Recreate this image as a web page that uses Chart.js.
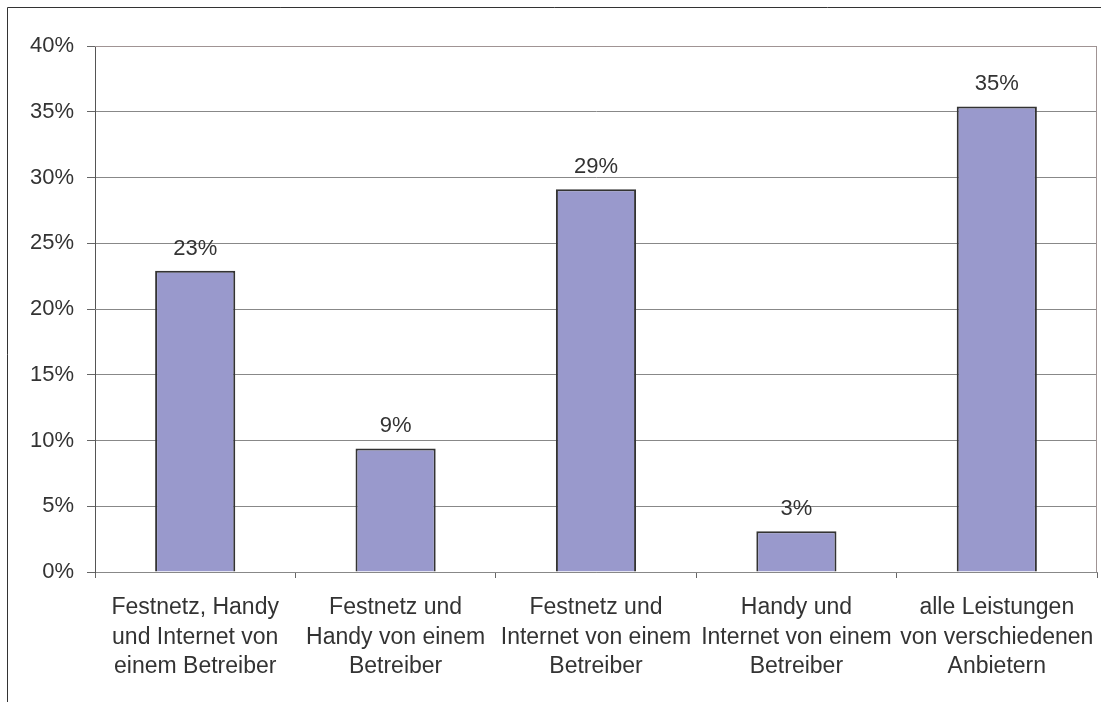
<!DOCTYPE html>
<html>
<head>
<meta charset="utf-8">
<script src="https://cdn.jsdelivr.net/npm/chart.js@4/dist/chart.umd.min.js"></script>
<style>
  html, body { margin: 0; padding: 0; background: #fff; }
  #wrap { width: 1101px; height: 702px; position: relative; }
</style>
</head>
<body>
<div id="wrap"><canvas id="barChart" width="1101" height="702"></canvas></div>
<script>
// Categories and values (percent)
const categories = [
  ["Festnetz, Handy", "und Internet von", "einem Betreiber"],
  ["Festnetz und", "Handy von einem", "Betreiber"],
  ["Festnetz und", "Internet von einem", "Betreiber"],
  ["Handy und", "Internet von einem", "Betreiber"],
  ["alle Leistungen", "von verschiedenen", "Anbietern"]
];
const values = [22.9, 9.4, 29.1, 3.1, 35.4];
const valueLabels = ["23%", "9%", "29%", "3%", "35%"];

const fontFamily = "'Liberation Sans', Arial, sans-serif";

// Outer frame + value labels above bars
const extras = {
  id: "extras",
  beforeDraw(chart) {
    const c = chart.ctx;
    c.save();
    c.strokeStyle = "#333";
    c.lineWidth = 1;
    c.beginPath();
    c.moveTo(7.5, 702);
    c.lineTo(7.5, 7.5);
    c.lineTo(1101, 7.5);
    c.stroke();
    c.restore();
  },
  afterDatasetsDraw(chart) {
    const c = chart.ctx;
    const a = chart.chartArea;
    c.save();
    // plot area border top/right
    c.strokeStyle = "#a09494";
    c.lineWidth = 1;
    c.beginPath();
    c.moveTo(a.left, a.top + 0.5);
    c.lineTo(a.right - 0.5, a.top + 0.5);
    c.lineTo(a.right - 0.5, a.bottom);
    c.stroke();
    c.fillStyle = "#333";
    c.font = "22px " + fontFamily;
    c.textAlign = "center";
    c.textBaseline = "alphabetic";
    chart.getDatasetMeta(0).data.forEach((bar, i) => {
      c.fillText(valueLabels[i], bar.x, bar.y - 16);
    });
    c.restore();
  }
};

const ctx = document.getElementById("barChart").getContext("2d");
const barChart = new Chart(ctx, {
  type: "bar",
  data: {
    labels: categories,
    datasets: [{
      data: values,
      backgroundColor: "#9999cc",
      borderColor: "#333",
      borderWidth: 2,
      borderSkipped: "bottom",
      barPercentage: 0.4,
      categoryPercentage: 1
    }]
  },
  options: {
    responsive: false,
    animation: false,
    layout: { padding: { left: 0, right: 4, top: 46, bottom: 0 } },
    plugins: { legend: { display: false }, tooltip: { enabled: false } },
    scales: {
      x: {
        offset: true,
        grid: {
          offset: true,
          drawOnChartArea: false,
          drawTicks: true,
          tickLength: 6,
          color: "#666"
        },
        border: { color: "#888", width: 1 },
        ticks: {
          color: "#333",
          font: { family: fontFamily, size: 23, lineHeight: 1.28 },
          maxRotation: 0,
          autoSkip: false,
          padding: 15
        },
        afterFit(scale) {
          scale.height = 130;
          scale.paddingRight = 0;
        }
      },
      y: {
        min: 0,
        max: 40,
        ticks: {
          stepSize: 5,
          color: "#333",
          font: { family: fontFamily, size: 22 },
          padding: 13,
          callback: v => v + "%"
        },
        grid: { color: "#888", tickLength: 8, tickColor: "#666" },
        border: { color: "#555", width: 1 },
        afterFit(scale) { scale.width = 95; }
      }
    }
  },
  plugins: [extras]
});
</script>
</body>
</html>
